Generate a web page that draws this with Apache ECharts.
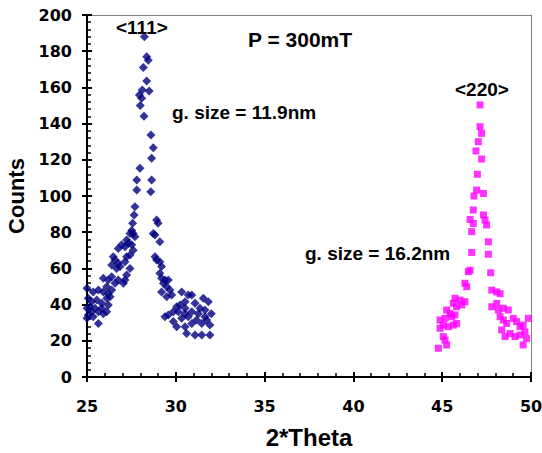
<!DOCTYPE html>
<html><head><meta charset="utf-8">
<script src="https://cdn.jsdelivr.net/npm/echarts@6/dist/echarts.min.js"></script>
<style>html,body{margin:0;padding:0;background:#fff}#c{width:542px;height:453px}#e{position:absolute;left:200px;top:300px;font:10px monospace;color:red;width:330px;word-wrap:break-word}</style>
</head><body><div id="c"></div><div id="e"></div>
<script>
var errs = [];
function showErr(){ document.getElementById('e').textContent = errs.join(' | '); }
window.onerror = function(m){ errs.push('O:'+m); showErr(); };
// <111> peak (navy diamonds)
var navyTheta = [28.23,28.36,28.45,28.17,28.36,28.11,28.5,27.95,28.08,28.0,28.21,28.6,28.73,28.64,27.98,27.8,27.8,28.64,28.59,27.7,27.65,27.57,28.92,29.0,
  27.52,27.6,27.42,27.7,28.73,28.83,29.1,27.23,26.95,26.76,27.14,27.33,27.52,27.6,27.42,27.23,27.14,28.83,28.92,29.1,29.2,
  26.48,26.58,26.76,26.39,26.67,26.86,27.42,27.23,27.14,29.1,29.2,29.39,29.3,29.58,29.49,
  25.92,26.2,26.39,26.11,26.58,26.76,27.05,29.2,29.49,29.67,29.77,30.33,30.7,
  25.0,25.35,25.64,25.92,26.2,26.39,26.3,25.07,25.26,25.55,25.83,26.11,26.2,
  25.0,25.17,25.45,25.64,25.83,25.92,26.11,25.07,25.35,25.64,25.26,25.0,
  29.39,29.58,29.86,30.05,30.24,30.52,30.9,31.08,31.36,31.55,31.83,31.64,32.0,30.52,30.7,30.9,31.17,31.46,31.74,31.92,30.52,31.08,31.46,31.92,30.05,29.86,30.33,30.14,30.52,30.9,31.27,31.64,30.61];
var navyCounts = [188,177,175,171,163.5,158.5,158,155.8,154,150,144,133.7,126.7,120.8,115.3,108.8,103.3,108.8,102.4,94,89.5,85,86.7,85,
  81,79.3,79.3,77.5,79.3,78.5,74.7,75.7,73,71,72,73.9,73,70,67.4,66.5,63.7,66.5,64.6,63.7,61,
  66.5,64.6,62.8,61.9,60,61,60,56.4,53.6,57.3,54.5,53.6,51.8,53.6,49.9,
  54.5,53.6,55.4,49.9,51.8,53.6,51.8,47,44.4,48,45.3,47,45.3,
  49,47,48,47,46,48,44.4,43.5,41.6,42.5,40.7,43.5,39.8,
  38,38.8,38,36,38,35,36,34.3,33.3,29.6,36,32.4,
  33.3,34.3,36,38.8,39.8,41.6,45.3,40.7,38,43.5,41.6,37,35,35,33.3,29.6,31.5,29.6,31.5,28.7,27.8,23.2,23.2,23.2,27.8,30.6,32.4,36,38,36,35,33.3,24];
// <220> peak (magenta squares)
var pinkTheta = [47.13,47.13,47.22,47.03,46.9,47.22,46.98,46.94,47.32,46.79,46.75,47.32,47.41,47.5,46.57,46.75,46.66,47.6,46.66,47.6,46.57,47.73,46.47,
  46.28,46.38,47.79,48.07,48.26,45.72,46.0,46.28,45.63,45.81,46.1,47.79,48.07,48.16,48.44,48.72,
  45.25,45.44,45.16,45.53,45.72,44.88,45.06,44.88,45.35,45.63,45.81,45.06,45.16,45.25,44.78,
  48.26,48.44,48.63,49.0,49.19,49.38,49.56,48.35,48.54,48.82,49.1,49.38,49.66,49.75,49.56,49.85];
var pinkCounts = [150.3,138.3,134.6,130,124.9,120.4,112,103.3,101.4,100,92.3,89.5,86.7,84,87,84.8,80.3,74.7,68.8,67.8,59,57.6,58.2,
  51.8,49.9,48,47,46,43.5,42.5,41.6,40.7,38.8,39.8,38.8,40.7,37,38,37,
  37,35,32.4,33.3,34.3,31.5,28.7,26.9,27.8,28.7,29.6,22.3,20.4,17.7,15.9,
  33.3,31.5,29.6,32.4,30.6,27.8,28.7,26,22.3,24,22.3,23.2,25,21.3,17.7,32.4];
var xTicks = {min: 25, max: 50, step: 5};
var yTicks = {min: 0, max: 200, step: 20};
var notes = ['<111>', 'P = 300mT', 'g. size = 11.9nm', 'g. size = 16.2nm', '<220>'];

function pairs(xs, ys){ return xs.map(function(x,i){ return [x, ys[i]]; }); }

var arial = '"Liberation Sans", Arial, sans-serif';
var dejavu = '"DejaVu Sans", sans-serif';
var chart = echarts.init(document.getElementById('c'), null, {renderer:'svg'});
var lbl = {color:'#000', fontFamily:dejavu, fontWeight:'bold', fontSize:16};
function outerTickAxis(t, pos){
  return {type:'value', min:t.min, max:t.max, interval:t.step, position:pos,
    axisLine:{show:false}, axisLabel:{show:false}, splitLine:{show:false},
    axisTick:{show:true, inside:false, length:5, lineStyle:{color:'#000', width:2}}};
}
function frameAxis(t, pos){
  return {type:'value', min:t.min, max:t.max, interval:t.step, position:pos,
    axisLine:{show:true, onZero:false, lineStyle:{color:'#808080', width:1}},
    axisTick:{show:false}, axisLabel:{show:false}, splitLine:{show:false}};
}
function note(i, left, top, size){
  return {text:notes[i], left:left, top:top, padding:0,
    textStyle:{color:'#000', fontFamily:arial, fontWeight:'bold', fontSize:size}};
}
try {
chart.setOption({
  animation:false,
  grid:{left:87, right:11, top:15, bottom:76, outerBoundsMode:'none'},
  title:[note(0,116,18,19), note(1,248,29,21), note(2,172,103,19), note(3,305,244,19), note(4,455,80,19)],
  xAxis:[{
    type:'value', min:xTicks.min, max:xTicks.max, interval:xTicks.step, position:'bottom',
    name:'2*Theta', nameLocation:'middle', nameGap:48,
    nameTextStyle:{color:'#000', fontFamily:arial, fontWeight:'bold', fontSize:24},
    axisLine:{show:true, onZero:false, lineStyle:{color:'#000', width:2}},
    axisTick:{show:true, inside:true, length:5, lineStyle:{color:'#000', width:2}},
    minorTick:{show:true, splitNumber:5, length:4, lineStyle:{color:'#000', width:1.5}},
    axisLabel:Object.assign({margin:21}, lbl),
    splitLine:{show:false}
  }, outerTickAxis(xTicks, 'bottom'), frameAxis(xTicks, 'top')],
  yAxis:[{
    type:'value', min:yTicks.min, max:yTicks.max, interval:yTicks.step, position:'left',
    name:'Counts', nameLocation:'middle', nameGap:44, nameRotate:90,
    nameTextStyle:{color:'#000', fontFamily:arial, fontWeight:'bold', fontSize:22},
    axisLine:{show:true, onZero:false, lineStyle:{color:'#000', width:2}},
    axisTick:{show:true, inside:true, length:5, lineStyle:{color:'#000', width:2}},
    minorTick:{show:true, splitNumber:5, length:4, lineStyle:{color:'#000', width:1.5}},
    axisLabel:Object.assign({margin:15}, lbl),
    splitLine:{show:false}
  }, outerTickAxis(yTicks, 'left'), frameAxis(yTicks, 'right')],
  series:[{
    type:'scatter', xAxisIndex:0, yAxisIndex:0, symbol:'diamond', symbolSize:9,
    itemStyle:{color:'#000080'}, data:pairs(navyTheta, navyCounts)
  },{
    type:'scatter', xAxisIndex:0, yAxisIndex:0, symbol:'rect', symbolSize:7,
    itemStyle:{color:'#FF00FF'}, data:pairs(pinkTheta, pinkCounts)
  }]
});
} catch(ex) { errs.push('X:'+ex.message); showErr(); }
</script></body></html>
